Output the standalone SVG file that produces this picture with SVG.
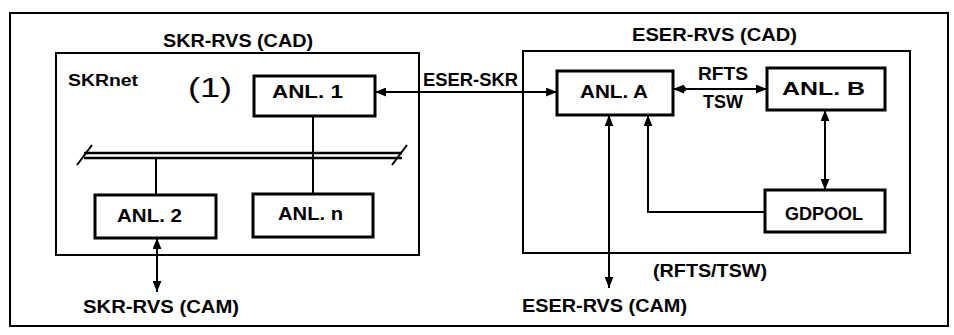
<svg xmlns="http://www.w3.org/2000/svg" width="954" height="335" viewBox="0 0 954 335">
<defs>
<marker id="ah" viewBox="0 0 10 8" refX="10" refY="4" markerWidth="11" markerHeight="9" markerUnits="userSpaceOnUse" orient="auto-start-reverse">
<path d="M0,0 L10,4 L0,8 Z" fill="#000"/>
</marker>
</defs>
<style>
text{font-family:"Liberation Sans",Arial,sans-serif;font-weight:bold;font-size:18px;fill:#000}
.box{fill:#fff;stroke:#000;stroke-width:3}
.cont{fill:none;stroke:#000;stroke-width:2}
.ln{fill:none;stroke:#000;stroke-width:2}
.arr{fill:none;stroke:#000;stroke-width:2;marker-start:url(#ah);marker-end:url(#ah)}
.arr1{fill:none;stroke:#000;stroke-width:2;marker-end:url(#ah)}
</style>
<rect width="954" height="335" fill="#fff"/>
<rect x="10" y="13" width="938" height="313" class="cont"/>
<g id="skr-cad">
<rect x="56" y="53" width="363" height="202" class="cont"/>
<text x="163" y="47" textLength="150" lengthAdjust="spacingAndGlyphs">SKR-RVS (CAD)</text>
<text x="68" y="86" style="font-size:16px" textLength="70" lengthAdjust="spacingAndGlyphs">SKRnet</text>
<text x="188" y="97" style="font-size:28px;font-weight:normal" textLength="44" lengthAdjust="spacingAndGlyphs">(1)</text>
</g>
<g id="eser-cad">
<rect x="523" y="51" width="387" height="202" class="cont"/>
<text x="632" y="41" textLength="165" lengthAdjust="spacingAndGlyphs">ESER-RVS (CAD)</text>
</g>
<g id="connectors">
<line x1="375" y1="92" x2="557" y2="92" class="arr"/>
<line x1="673" y1="89" x2="767" y2="89" class="arr"/>
<circle cx="683" cy="89" r="3" fill="#000"/>
<line x1="313" y1="116" x2="313" y2="194" class="ln"/>
<line x1="156" y1="158" x2="156" y2="195" class="ln"/>
<line x1="84" y1="153" x2="402" y2="153" stroke="#000" stroke-width="2.5"/>
<line x1="84" y1="158" x2="402" y2="158" stroke="#000" stroke-width="2.5"/>
<line x1="77" y1="165" x2="92" y2="145" class="ln"/>
<line x1="392" y1="165" x2="407" y2="145" class="ln"/>
<line x1="157" y1="238" x2="157" y2="292" class="arr"/>
<line x1="609" y1="115" x2="609" y2="288" class="arr"/>
<polyline points="765,212 648,212 648,115" class="arr1"/>
<line x1="825" y1="110" x2="825" y2="190" class="arr"/>
<text x="423" y="86" textLength="95" lengthAdjust="spacingAndGlyphs">ESER-SKR</text>
<text x="698" y="80" textLength="50" lengthAdjust="spacingAndGlyphs">RFTS</text>
<text x="703" y="108" textLength="40" lengthAdjust="spacingAndGlyphs">TSW</text>
<text x="653" y="277" textLength="114" lengthAdjust="spacingAndGlyphs">(RFTS/TSW)</text>
</g>
<g id="anl1">
<rect x="254" y="76" width="121" height="40" class="box"/>
<text x="272" y="98" textLength="71" lengthAdjust="spacingAndGlyphs">ANL. 1</text>
</g>
<g id="anl2">
<rect x="95" y="195" width="121" height="43" class="box"/>
<text x="117" y="222" textLength="65" lengthAdjust="spacingAndGlyphs">ANL. 2</text>
</g>
<g id="anln">
<rect x="253" y="194" width="120" height="43" class="box"/>
<text x="278" y="220" textLength="65" lengthAdjust="spacingAndGlyphs">ANL. n</text>
</g>
<g id="anlA">
<rect x="557" y="71" width="116" height="44" class="box"/>
<text x="580" y="98" textLength="68" lengthAdjust="spacingAndGlyphs">ANL. A</text>
</g>
<g id="anlB">
<rect x="767" y="68" width="118" height="42" class="box"/>
<text x="782" y="95" textLength="83" lengthAdjust="spacingAndGlyphs">ANL. B</text>
</g>
<g id="gdpool">
<rect x="765" y="190" width="120" height="42" class="box"/>
<text x="785" y="220" textLength="78" lengthAdjust="spacingAndGlyphs">GDPOOL</text>
</g>
<g id="skr-cam">
<text x="83" y="313" textLength="156" lengthAdjust="spacingAndGlyphs">SKR-RVS (CAM)</text>
</g>
<g id="eser-cam">
<text x="522" y="312" textLength="165" lengthAdjust="spacingAndGlyphs">ESER-RVS (CAM)</text>
</g>
</svg>
